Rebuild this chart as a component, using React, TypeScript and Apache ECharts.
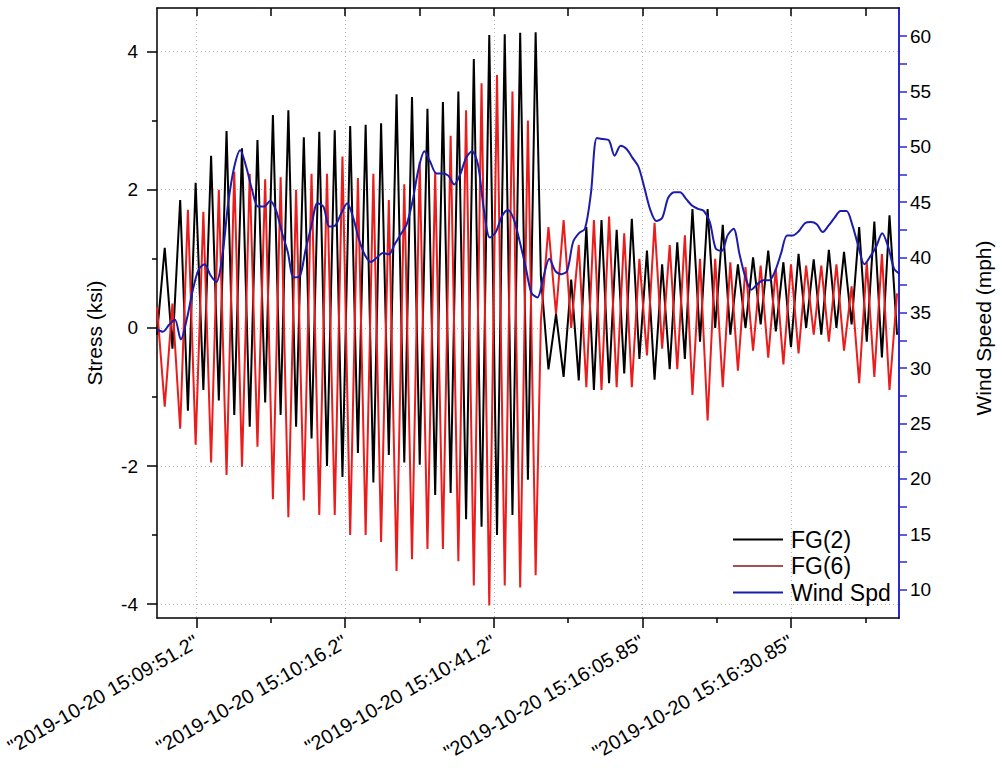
import React, { useEffect, useRef } from "react";
import * as echarts from "echarts";

// ---- Data ----
// Stress samples, first record (half-cycle samples), seconds from the left edge of the plot
const SEG1_START = 0;
const SEG1_STEP = 1.3;
const fg2Seg1 = [
  -0.1, 1.16, -0.3, 1.85, -1.2, 2.1, -0.9, 2.49, -1.05, 2.85,
  -1.26, 2.6, -1.43, 2.72, -1.08, 3.08, -1.26, 3.15, -1.43, 2.76,
  -1.6, 2.84, -2.0, 2.86, -2.16, 2.92, -1.81, 2.94, -2.24, 2.96,
  -1.84, 3.38, -1.95, 3.34, -1.98, 3.17, -2.42, 3.27, -2.39, 3.42,
  -2.77, 3.89, -2.88, 4.24, -3.0, 4.25, -2.71, 4.27, -2.2, 4.28,
];
const fg6Seg1 = [
  0.3, -1.14, 0.35, -1.46, 1.71, -1.69, 1.68, -1.95, 2.0, -2.13,
  2.26, -2.01, 2.23, -1.72, 2.15, -2.48, 2.18, -2.74, 2.0, -2.5,
  2.23, -2.71, 2.23, -2.71, 2.48, -3.0, 2.17, -3.0, 2.23, -3.1,
  1.85, -3.52, 2.08, -3.35, 2.4, -3.2, 2.26, -3.2, 2.78, -3.38,
  3.15, -3.73, 3.54, -4.02, 3.66, -3.73, 3.42, -3.76, 3.0, -3.58,
];
// Second record
const SEG2_START = 64.58;
const SEG2_STEP = 1.275;
const fg2Seg2 = [
  0.75, -0.6, 0.2, -0.71, 0.7, -0.76, 1.46, -0.9, 1.56, -0.8,
  1.42, -0.66, 1.58, -0.45, 1.12, -0.75, 0.92, -0.6, 1.24, -0.45,
  1.72, -0.2, 1.72, 0.0, 1.49, -0.1, 0.92, 0.0, 1.02, 0.05,
  1.12, -0.05, 0.95, -0.28, 1.07, 0.0, 0.99, -0.1, 1.13, 0.0,
  1.1, 0.05, 1.46, -0.2, 1.54, -0.43, 1.63, -0.1,
];
const fg6Seg2 = [
  0.1, 1.46, 0.2, 1.56, 0.0, 1.2, -0.86, 1.56, -0.9, 1.61,
  -0.86, 1.37, -0.86, 1.0, -0.4, 1.52, -0.3, 1.2, -0.6, 1.34,
  -0.97, 1.0, -1.34, 1.0, -0.86, 0.95, -0.62, 0.88, -0.33, 0.9,
  -0.43, 0.85, -0.53, 0.92, -0.37, 0.9, -0.1, 0.9, -0.2, 0.92,
  -0.33, 0.6, -0.8, 0.95, -0.71, 1.07, -0.9, 0.5,
];
// Wind speed, one sample per second
const WIND_START = 0;
const WIND_STEP = 1;
const windSpd = [
  33.5, 33.3, 33.9, 34.4, 32.6, 34.4, 37.0, 38.9, 39.4, 38.4,
  37.8, 40.2, 45.0, 48.2, 49.7, 48.2, 46.1, 44.6, 44.6, 45.1,
  44.3, 42.3, 40.5, 38.2, 38.3, 40.7, 42.9, 44.9, 44.6, 42.8,
  42.9, 44.0, 44.9, 43.6, 41.6, 40.2, 39.6, 40.0, 40.4, 40.3,
  41.2, 42.1, 43.0, 45.1, 48.0, 49.6, 48.6, 47.6, 47.6, 47.4,
  46.6, 47.5, 49.0, 49.6, 48.4, 44.3, 41.8, 42.3, 43.7, 44.3,
  43.5, 41.5, 39.2, 36.8, 36.4, 38.2, 39.9, 38.8, 38.5, 38.8,
  41.4, 42.2, 42.6, 45.8, 50.8, 50.7, 50.6, 49.2, 50.1, 49.8,
  49.0, 48.2, 46.3, 44.3, 43.3, 43.6, 45.4, 45.9, 45.9, 45.3,
  44.7, 44.4, 44.2, 43.2, 40.8, 40.6, 42.0, 42.6, 40.3, 38.2,
  37.1, 37.6, 37.95, 37.95, 38.8, 40.4, 42.0, 42.0, 42.4, 43.1,
  43.2, 43.0, 42.3, 42.9, 43.6, 44.2, 44.2, 42.9, 41.0, 39.4,
  40.1, 41.0, 42.2, 41.0, 39.0, 38.5,
];

// ---- Axes ----
const X_MIN = 0;
const X_MAX = 124.83;
const xMajorTicks = [6.667, 31.667, 56.667, 81.667, 106.667];
const xMinorTicks = [19.167, 44.167, 69.167, 94.167, 119.167];
const xTickLabels = [
  '"2019-10-20 15:09:51.2"',
  '"2019-10-20 15:10:16.2"',
  '"2019-10-20 15:10:41.2"',
  '"2019-10-20 15:16:05.85"',
  '"2019-10-20 15:16:30.85"',
];
const STRESS_MIN = -4.2;
const STRESS_MAX = 4.63;
const stressTicks = [-4, -2, 0, 2, 4];
const stressMinorTicks = [-3, -1, 1, 3];
const WIND_MIN = 7.44;
const WIND_MAX = 62.54;
const windLabels = [10, 15, 20, 25, 30, 35, 40, 45, 50, 55, 60];
const windTicks = [10, 12.5, 15, 17.5, 20, 22.5, 25, 27.5, 30, 32.5, 35, 37.5, 40, 42.5, 45, 47.5, 50, 52.5, 55, 57.5, 60];

const FONT = '"Liberation Sans", Arial, sans-serif';

function toPairs(vals: number[], start: number, step: number): number[][] {
  return vals.map((v, i) => [start + i * step, v]);
}

export default function App() {
  const ref = useRef<HTMLDivElement>(null);
  useEffect(() => {
    const chart = echarts.init(ref.current!, null, { renderer: "svg" });
    const fg2 = toPairs(fg2Seg1, SEG1_START, SEG1_STEP).concat(toPairs(fg2Seg2, SEG2_START, SEG2_STEP));
    const fg6 = toPairs(fg6Seg1, SEG1_START, SEG1_STEP).concat(toPairs(fg6Seg2, SEG2_START, SEG2_STEP));
    const wind = toPairs(windSpd, WIND_START, WIND_STEP);
    const dotted = { color: "#b8b8b8", width: 1, type: [1, 3] as any };
    const option: any = {
      animation: false,
      backgroundColor: "#ffffff",
      textStyle: { fontFamily: FONT },
      grid: { left: 157, top: 8, width: 749, height: 610, containLabel: false },
      legend: {
        orient: "vertical",
        left: 733,
        top: 528,
        icon: "rect",
        itemWidth: 50,
        itemHeight: 2,
        itemGap: 3.5,
        padding: 0,
        textStyle: { fontSize: 23, color: "#000", fontFamily: FONT, padding: [0, 0, 0, 3] },
        data: [
          { name: "FG(2)", itemStyle: { color: "#000000" } },
          { name: "FG(6)", itemStyle: { color: "#a8504e" } },
          { name: "Wind Spd", itemStyle: { color: "#1c1cab" } },
        ],
      },
      xAxis: [
        {
          type: "value",
          position: "bottom",
          min: X_MIN,
          max: X_MAX,
          axisLine: { onZero: false, lineStyle: { color: "#000", width: 1.5 } },
          axisTick: { customValues: xMajorTicks, length: 10, lineStyle: { color: "#000", width: 1.5 } },
          axisLabel: {
            customValues: xMajorTicks,
            rotate: 30,
            margin: 22,
            fontSize: 20,
            color: "#000",
            fontFamily: FONT,
            formatter: (v: number) => {
              const k = xMajorTicks.findIndex((t) => Math.abs(t - v) < 0.01);
              return k >= 0 ? xTickLabels[k] : "";
            },
          },
          splitLine: { show: true, lineStyle: dotted },
        },
        {
          type: "value",
          position: "bottom",
          min: X_MIN,
          max: X_MAX,
          axisLine: { show: false, onZero: false },
          axisTick: { customValues: xMinorTicks, length: 5, lineStyle: { color: "#000", width: 1.5 } },
          axisLabel: { show: false },
          splitLine: { show: false },
        },
        {
          type: "value",
          position: "top",
          min: X_MIN,
          max: X_MAX,
          axisLine: { onZero: false, lineStyle: { color: "#000", width: 1.5 } },
          axisTick: {
            inside: true,
            customValues: xMajorTicks.concat(xMinorTicks),
            length: 8,
            lineStyle: { color: "#000", width: 1.5 },
          },
          axisLabel: { show: false },
          splitLine: { show: false },
        },
      ],
      yAxis: [
        {
          type: "value",
          position: "left",
          min: STRESS_MIN,
          max: STRESS_MAX,
          name: "Stress (ksi)",
          nameLocation: "middle",
          nameRotate: 90,
          nameGap: 52,
          nameTextStyle: { fontSize: 21, color: "#000", fontFamily: FONT, padding: [0, 40, 0, 0] },
          axisLine: { onZero: false, lineStyle: { color: "#000", width: 1.5 } },
          axisTick: { customValues: stressTicks, length: 10, lineStyle: { color: "#000", width: 1.5 } },
          axisLabel: { customValues: stressTicks, margin: 19, fontSize: 19, color: "#000", fontFamily: FONT },
          splitLine: { show: true, lineStyle: dotted },
        },
        {
          type: "value",
          position: "left",
          min: STRESS_MIN,
          max: STRESS_MAX,
          axisLine: { show: false, onZero: false },
          axisTick: { customValues: stressMinorTicks, length: 5, lineStyle: { color: "#000", width: 1.5 } },
          axisLabel: { show: false },
          splitLine: { show: false },
        },
        {
          type: "value",
          position: "right",
          min: WIND_MIN,
          max: WIND_MAX,
          name: "Wind Speed (mph)",
          nameLocation: "middle",
          nameRotate: 90,
          nameGap: 74,
          nameTextStyle: { fontSize: 21, color: "#000", fontFamily: FONT, padding: [0, 30, 0, 0] },
          axisLine: { onZero: false, lineStyle: { color: "#2a2ad0", width: 2 } },
          axisTick: { customValues: windTicks, length: 8, lineStyle: { color: "#2a2ad0", width: 1.5 } },
          axisLabel: { customValues: windLabels, margin: 11, fontSize: 19, color: "#000", fontFamily: FONT },
          splitLine: { show: false },
        },
      ],
      series: [
        {
          name: "FG(2)",
          type: "line",
          xAxisIndex: 0,
          yAxisIndex: 0,
          data: fg2,
          symbol: "none",
          showSymbol: false,
          lineStyle: { color: "#000000", width: 2 },
          itemStyle: { color: "#000000" },
        },
        {
          name: "FG(6)",
          type: "line",
          xAxisIndex: 0,
          yAxisIndex: 0,
          data: fg6,
          symbol: "none",
          showSymbol: false,
          lineStyle: { color: "#ea1c1c", width: 2 },
          itemStyle: { color: "#ea1c1c" },
        },
        {
          name: "Wind Spd",
          type: "line",
          xAxisIndex: 0,
          yAxisIndex: 2,
          data: wind,
          symbol: "none",
          showSymbol: false,
          smooth: 0.3,
          lineStyle: { color: "#1c1cab", width: 2 },
          itemStyle: { color: "#1c1cab" },
        },
      ],
    };
    chart.setOption(option);
    return () => chart.dispose();
  }, []);
  return (
    <div
      ref={ref}
      style={{ position: "absolute", left: 0, top: 0, width: 1002, height: 768, background: "#fff" }}
    />
  );
}
